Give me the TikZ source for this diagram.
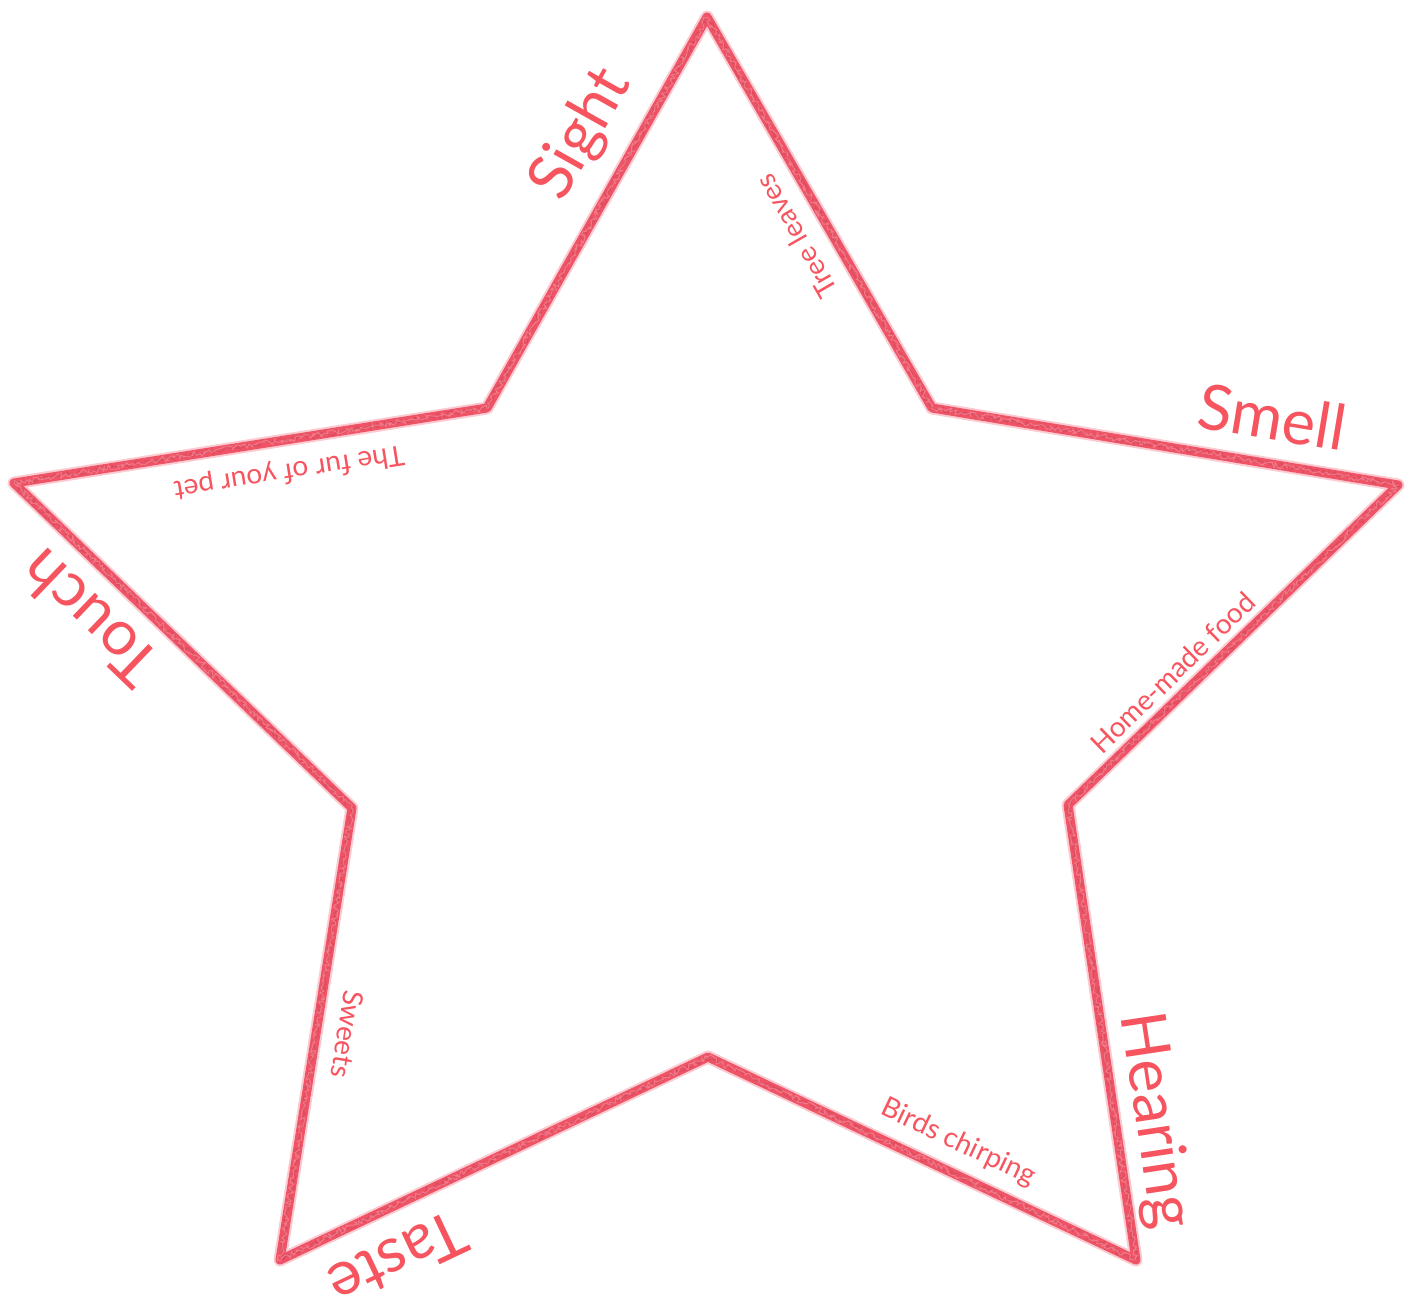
\documentclass[tikz,border=0pt]{standalone}
\usepackage{fontspec}
\setmainfont{Lato}
\usetikzlibrary{decorations.pathmorphing}
\definecolor{crayonRed}{RGB}{238,84,102}
\definecolor{crayonDark}{RGB}{180,56,80}
\definecolor{crayonPink}{RGB}{247,160,172}
\definecolor{labelRed}{RGB}{246,84,94}

\begin{document}
\begin{tikzpicture}[
    x=1pt, y=-1pt,
    sense/.style={sloped, allow upside down, inner sep=0pt, text=labelRed, font=\fontsize{63}{70}\selectfont, above=#1, anchor=base},
    example/.style={sloped, allow upside down, inner sep=0pt, text=labelRed, font=\fontsize{28}{32}\selectfont, above=#1, anchor=base},
    fuzz/.style={draw=crayonPink, line width=13pt, line join=round, opacity=0.55},
    crayon/.style={draw=crayonRed, line width=9pt, line join=round},
    grain/.style={draw=crayonDark, line width=1pt, opacity=0.3, line join=round, decorate, decoration={random steps, segment length=2pt, amplitude=3pt}}
  ]
    \useasboundingbox (0,0) rectangle (1407,1303);

    % Star corners
    \coordinate (tipN) at (707,17);
    \coordinate (notchNE) at (932,408);
    \coordinate (tipE) at (1398,485);
    \coordinate (notchSE) at (1068,805);
    \coordinate (tipSE) at (1136,1260);
    \coordinate (notchS) at (708,1057);
    \coordinate (tipSW) at (280,1260);
    \coordinate (notchSW) at (352,808);
    \coordinate (tipW) at (14,483);
    \coordinate (notchNW) at (487,408);

    % Star outline
    \draw[fuzz] (tipN) -- (notchNE) -- (tipE) -- (notchSE) -- (tipSE) -- (notchS) -- (tipSW) -- (notchSW) -- (tipW) -- (notchNW) -- cycle;
    \draw[crayon] (tipN) -- (notchNE) -- (tipE) -- (notchSE) -- (tipSE) -- (notchS) -- (tipSW) -- (notchSW) -- (tipW) -- (notchNW) -- cycle;
    \draw[grain] (tipN) -- (notchNE) -- (tipE) -- (notchSE) -- (tipSE) -- (notchS) -- (tipSW) -- (notchSW) -- (tipW) -- (notchNW) -- cycle;
    \draw[grain, crayonPink, opacity=0.5] (tipN) -- (notchNE) -- (tipE) -- (notchSE) -- (tipSE) -- (notchS) -- (tipSW) -- (notchSW) -- (tipW) -- (notchNW) -- cycle;

    % Senses (outside)
    \path (notchNW) -- node[sense=34pt, pos=0.635] (sight) {Sight} (tipN);
    \path (notchNE) -- node[sense=24pt, pos=0.714] (smell) {Smell} (tipE);
    \path (notchSE) -- node[sense=21pt, pos=0.706] (hearing) {Hearing} (tipSE);
    \path (notchS) -- node[sense=28pt, pos=0.775] (taste) {Taste} (tipSW);
    \path (notchSW) -- node[sense=23pt, pos=0.683] (touch) {Touch} (tipW);

    % Examples (inside)
    \path (notchNE) -- node[example=22pt, pos=0.48] (leaves) {Tree leaves} (tipN);
    \path (notchSE) -- node[example=12pt, pos=0.364] (food) {Home-made food} (tipE);
    \path (notchS) -- node[example=22pt, pos=0.555] (birds) {Birds chirping} (tipSE);
    \path (notchSW) -- node[example=21pt, pos=0.49] (sweets) {Sweets} (tipSW);
    \path (notchNW) -- node[example=24pt, pos=0.429] (fur) {The fur of your pet} (tipW);
  \end{tikzpicture}
\end{document}
